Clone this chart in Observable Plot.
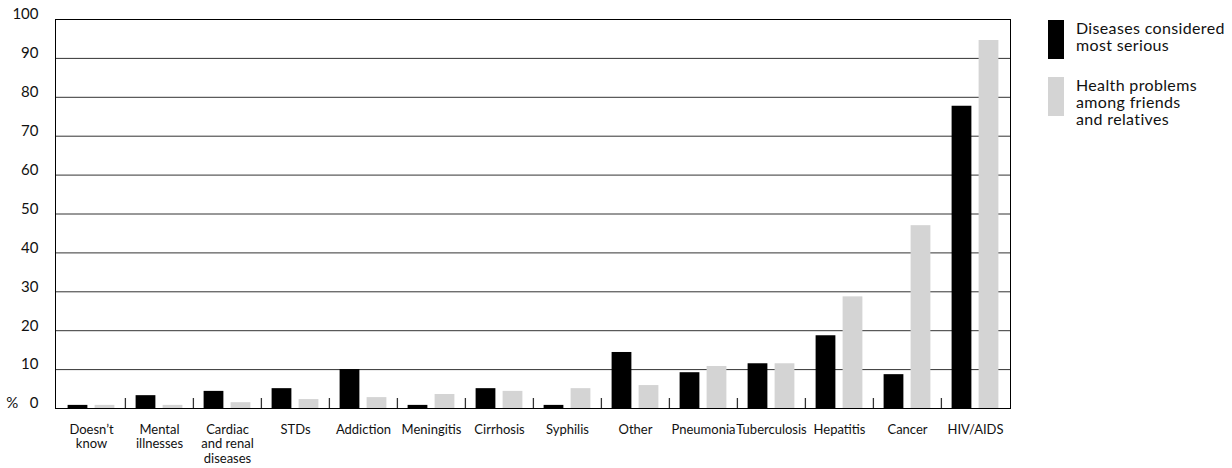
<!DOCTYPE html>
<html>
<head>
<meta charset="utf-8">
<script src="https://cdn.jsdelivr.net/npm/d3@7"></script>
<script src="https://cdn.jsdelivr.net/npm/@observablehq/plot@0.6"></script>
<style>
  html, body { margin: 0; padding: 0; background: #fff; }
  #wrap { position: relative; width: 1232px; height: 468px; font-family: Lato, "Noto Sans", sans-serif; color: #111; }
  .legend { position: absolute; left: 1048px; font-size: 16px; line-height: 17px; letter-spacing: 0.35px; }
  .legend .sw { position: absolute; left: 0; width: 16px; }
  .legend .tx { position: absolute; left: 28px; white-space: nowrap; }
</style>
</head>
<body>
<div id="wrap"></div>
<script>
// ---- data ----
const categories = ["Doesn't know", "Mental illnesses", "Cardiac and renal diseases", "STDs", "Addiction", "Meningitis", "Cirrhosis", "Syphilis", "Other", "Pneumonia", "Tuberculosis", "Hepatitis", "Cancer", "HIV/AIDS"];
const categoryLabels = ["Doesn\u2019t\nknow", "Mental\nillnesses", "Cardiac\nand renal\ndiseases", "STDs", "Addiction", "Meningitis", "Cirrhosis", "Syphilis", "Other", "Pneumonia", "Tuberculosis", "Hepatitis", "Cancer", "HIV/AIDS"];
const seriousValues = [0.8, 3.3, 4.4, 5.1, 10, 0.8, 5.1, 0.8, 14.4, 9.2, 11.5, 18.7, 8.7, 77.7];
const friendsValues = [0.8, 0.8, 1.5, 2.3, 2.8, 3.6, 4.4, 5.1, 5.9, 10.8, 11.5, 28.7, 47, 94.6];
const seriesNames = ["Diseases considered\nmost serious", "Health problems\namong friends\nand relatives"];
const seriesColors = ["#000000", "#d4d4d4"];
const yTicks = [0, 10, 20, 30, 40, 50, 60, 70, 80, 90, 100];

// ---- layout ----
const W = 1232, H = 468;
const mL = 55, mR = 222, mT = 19, mB = 60;
const step = (W - mL - mR) / categories.length;
const barW = 20, outer = 10.6, gap = 7;
const labelOf = new Map(categories.map((c, i) => [c, categoryLabels[i]]));

const serious = categories.map((c, i) => ({category: c, value: seriousValues[i]}));
const friends = categories.map((c, i) => ({category: c, value: friendsValues[i]}));

const chart = Plot.plot({
  width: W, height: H,
  marginLeft: mL, marginRight: mR, marginTop: mT, marginBottom: mB,
  style: {fontFamily: "Lato, 'Noto Sans', sans-serif", fontSize: "14px", color: "#111", background: "#fff"},
  x: {type: "band", domain: categories, paddingInner: 0, paddingOuter: 0, axis: null},
  y: {domain: [0, 100], axis: null},
  marks: [
    Plot.ruleY(yTicks, {stroke: "#333", strokeWidth: 1}),
    Plot.barY(serious, {x: "category", y: "value", fill: seriesColors[0], insetLeft: outer, insetRight: step - outer - barW}),
    Plot.barY(friends, {x: "category", y: "value", fill: seriesColors[1], insetLeft: outer + barW + gap, insetRight: step - outer - 2 * barW - gap}),
    Plot.ruleX(categories.slice(1), {x: d => d, dx: -step / 2, stroke: "#333", strokeWidth: 1.3, insetTop: (H - mT - mB) - 10}),
    Plot.frame({stroke: "#000", strokeWidth: 1}),
    Plot.axisY({ticks: yTicks, tickSize: 0, tickPadding: 17, dy: -5, fontSize: 15, label: null,
      tickFormat: d => d === 0 ? "%\u00a0\u00a0\u00a00" : String(d)}),
    Plot.text(categories, {x: d => d, frameAnchor: "bottom", lineAnchor: "top", dy: 15, lineHeight: 1.12,
      text: d => labelOf.get(d), fontSize: 13, fill: "#111"})
  ]
});

const wrap = document.getElementById("wrap");
wrap.appendChild(chart);

// legend
const legend = document.createElement("div");
legend.className = "legend";
legend.style.top = "0px";
const legendTops = [20, 77];
const swH = 39;
seriesNames.forEach((name, i) => {
  const sw = document.createElement("div");
  sw.className = "sw";
  sw.style.top = legendTops[i] + "px";
  sw.style.height = swH + "px";
  sw.style.background = seriesColors[i];
  legend.appendChild(sw);
  const tx = document.createElement("div");
  tx.className = "tx";
  tx.style.top = (legendTops[i] - 1) + "px";
  tx.innerHTML = name.split("\n").join("<br>");
  legend.appendChild(tx);
});
wrap.appendChild(legend);
</script>
</body>
</html>
